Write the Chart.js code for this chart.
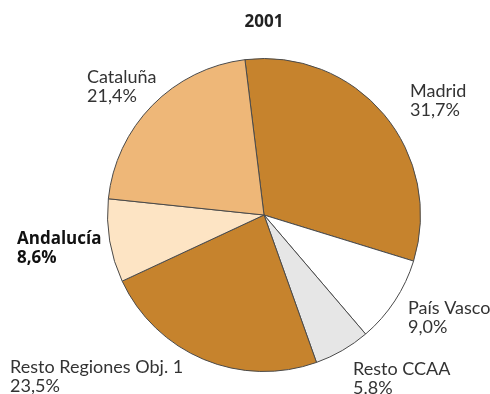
<!DOCTYPE html>
<html>
<head>
<meta charset="utf-8">
<script src="https://cdn.jsdelivr.net/npm/chart.js@4"></script>
<style>
  html, body { margin: 0; padding: 0; background: #fff; }
  canvas { display: block; }
</style>
</head>
<body>
<canvas id="pie" width="490" height="394"></canvas>
<script>
const regions = ["Madrid", "País Vasco", "Resto CCAA", "Resto Regiones Obj. 1", "Andalucía", "Cataluña"];
const shares = [31.7, 9.0, 5.8, 23.5, 8.6, 21.4];
const shareLabels = ["31,7%", "9,0%", "5.8%", "23,5%", "8,6%", "21,4%"];
const sliceColors = ["#c6832d", "#ffffff", "#e6e6e6", "#c6832d", "#fde4c4", "#eeb778"];

// baseline of the first line of each label block; bold for the highlighted region
const labelPos = [
  { x: 410, y: 97 },
  { x: 408, y: 314 },
  { x: 353, y: 375 },
  { x: 10, y: 373 },
  { x: 17, y: 244, bold: true },
  { x: 87, y: 83 }
];

const FONT = "Lato, 'Open Sans', sans-serif";

const labelPlugin = {
  id: "sliceLabels",
  afterDraw(chart) {
    const ctx = chart.ctx;
    ctx.save();
    ctx.fillStyle = "#222";
    ctx.textAlign = "center";
    ctx.textBaseline = "alphabetic";
    ctx.font = "bold 17px 'Open Sans', sans-serif";
    ctx.fillText("2001", 264, 27);

    ctx.textAlign = "left";
    regions.forEach((name, i) => {
      const p = labelPos[i];
      ctx.font = p.bold ? "bold 17px 'Open Sans', sans-serif" : "18px " + FONT;
      ctx.fillStyle = p.bold ? "#111" : "#333";
      ctx.fillText(name, p.x, p.y);
      ctx.fillText(shareLabels[i], p.x, p.y + 19);
    });
    ctx.restore();
  }
};

new Chart(document.getElementById("pie"), {
  type: "pie",
  data: {
    labels: regions,
    datasets: [{
      data: shares,
      backgroundColor: sliceColors,
      borderColor: "#4a4a4a",
      borderWidth: 1
    }]
  },
  options: {
    responsive: false,
    animation: false,
    rotation: -7,
    layout: { padding: { left: 107, right: 69, top: 58, bottom: 22 } },
    plugins: {
      legend: { display: false },
      tooltip: { enabled: false },
      title: { display: false }
    }
  },
  plugins: [labelPlugin]
});
</script>
</body>
</html>
